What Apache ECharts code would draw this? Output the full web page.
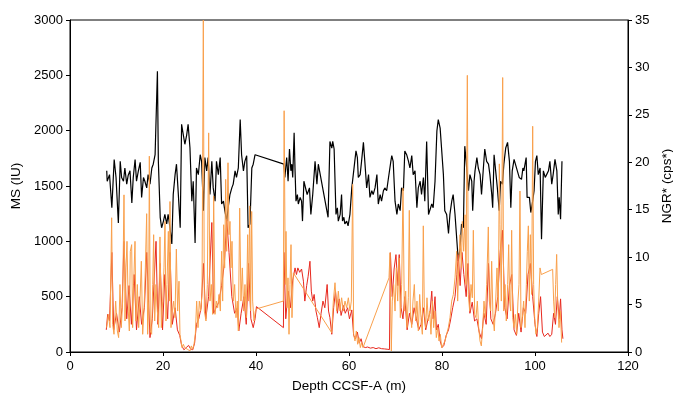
<!DOCTYPE html>
<html>
<head>
<meta charset="utf-8">
<script src="https://cdn.jsdelivr.net/npm/echarts@6/dist/echarts.min.js"></script>
<style>
html,body{margin:0;padding:0;background:#fff;}
#chart{width:673px;height:394px;}
</style>
</head>
<body>
<div id="chart"></div>
<script>
const xTitle = 'Depth CCSF-A (m)';
const yLeftTitle = 'MS (IU)';
const yRightTitle = 'NGR* (cps*)';

// NGR (black, right axis): [depth m, cps]
const ngrBlack = [
[7.9,19.1],[8.0,18.0],[8.5,18.7],[9.0,15.2],[9.5,20.3],[9.9,18.4],[10.4,13.6],[10.8,20.1],[11.1,18.4],[11.5,18.0],[11.8,19.4],[12.2,17.7],[12.5,18.6],[12.9,19.1],[13.3,15.7],[13.6,18.4],[14.0,20.3],[14.3,18.0],[14.7,19.1],[15.1,20.0],[15.4,16.3],[15.8,18.4],[16.1,18.0],[16.5,17.3],[16.8,18.7],[17.2,17.7],[17.6,19.4],[17.9,19.8],[18.3,20.8],[18.8,29.6],[19.0,20.1],[19.4,14.2],[19.7,13.1],[20.1,13.8],[20.4,14.5],[20.8,13.5],[21.1,14.5],[21.5,13.1],[21.9,11.4],[22.2,16.6],[22.6,18.7],[22.9,19.8],[23.3,16.6],[23.7,13.1],[24.0,24.0],[24.4,24.2],[24.7,21.9],[25.1,22.9],[25.4,24.0],[25.8,21.5],[26.2,15.9],[26.5,18.0],[26.9,11.5],[27.2,19.4],[27.6,18.7],[28.0,20.8],[28.3,20.1],[28.7,14.9],[29.0,20.5],[29.4,19.1],[29.7,20.5],[30.1,16.6],[30.5,20.1],[30.8,17.3],[31.2,15.9],[31.5,20.1],[31.9,18.7],[32.3,20.5],[32.6,15.6],[33.0,15.9],[33.3,14.9],[33.7,13.8],[34.0,15.2],[34.4,16.6],[34.8,17.3],[35.1,17.7],[35.5,19.1],[35.8,18.4],[36.2,19.4],[36.6,24.5],[36.9,20.8],[37.3,19.1],[37.6,20.1],[38.0,20.7],[38.3,13.1],[38.7,13.5],[39.1,19.4],[39.4,19.8],[39.8,20.8],[40.1,21.0],
[46.0,19.8],[46.2,18.4],[46.6,20.5],[46.9,18.0],[47.2,21.4],[47.5,19.1],[47.7,19.8],[47.9,18.4],[48.2,23.1],[48.4,19.1],[48.6,15.9],[48.9,16.6],[49.1,15.6],[49.5,16.3],[49.8,15.9],[50.0,13.8],[50.3,18.0],[50.8,17.0],[51.0,16.6],[51.5,17.3],[51.8,14.5],[52.2,16.6],[52.7,20.1],[53.1,17.7],[53.4,19.8],[55.5,14.2],[55.9,22.2],[56.3,21.5],[56.5,22.2],[56.8,21.4],[57.2,14.5],[57.5,15.2],[57.7,13.8],[58.1,14.5],[58.4,16.6],[58.6,13.8],[58.9,14.2],[59.1,13.5],[59.5,13.8],[59.8,13.3],[60.2,14.5],[60.6,17.3],[60.9,17.3],[61.5,21.2],[61.8,20.5],[62.0,18.4],[62.4,18.7],[62.7,20.1],[63.1,22.1],[63.4,20.1],[63.8,17.3],[64.2,18.7],[64.5,16.3],[64.9,17.0],[65.2,16.6],[65.6,17.3],[66.0,18.7],[66.3,15.6],[66.7,16.6],[67.0,15.9],[67.4,17.0],[67.7,17.3],[68.1,17.0],[68.5,18.4],[69.0,20.1],[69.2,20.7],[69.5,20.1],[69.9,15.9],[70.3,14.5],[70.6,15.6],[71.0,14.9],[71.3,17.3],[71.7,17.0],[72.0,21.2],[72.4,20.8],[72.8,20.1],[73.1,19.4],[73.5,20.7],[73.8,18.7],[74.2,19.1],[74.6,15.2],[74.9,17.3],[75.3,18.0],[75.6,16.6],[76.0,18.4],[76.3,15.9],[76.7,22.2],[77.1,14.5],[77.4,14.7],[77.8,15.6],[78.1,15.2],[78.5,18.0],[78.9,23.3],[79.2,24.5],[79.6,23.6],[79.9,21.5],[80.3,18.7],[80.6,14.9],[81.0,14.5],[81.4,12.5],[81.7,14.5],[82.1,15.9],[82.4,16.6],[82.8,14.5],[83.2,11.7],[83.5,9.6],[83.9,11.0],[84.2,13.5],[84.6,13.1],[84.9,21.7],[85.2,20.1],[85.4,18.7],[85.7,17.0],[86.0,18.7],[86.4,18.0],[86.6,14.9],[86.9,18.0],[87.1,19.1],[87.5,20.5],[87.8,19.4],[88.2,18.7],[88.5,16.6],[88.9,19.4],[89.2,21.4],[89.6,20.1],[90.0,19.8],[90.3,18.7],[90.7,16.6],[90.9,15.2],[91.2,20.8],[91.5,21.0],[91.9,17.3],[92.3,14.9],[92.6,18.0],[93.0,17.7],[93.3,19.8],[93.7,21.5],[94.1,22.1],[94.5,20.1],[94.8,15.2],[95.1,19.1],[95.5,20.3],[95.9,20.1],[96.2,19.1],[96.6,18.4],[97.1,18.2],[97.4,19.4],[97.6,19.1],[98.1,20.5],[98.3,16.3],[98.8,16.3],[99.1,14.7],[99.5,15.9],[99.8,17.0],[100.1,20.1],[100.4,20.7],[100.7,18.7],[101.1,19.4],[101.4,11.9],[101.8,19.1],[102.2,18.4],[102.5,18.7],[102.9,19.1],[103.2,20.1],[103.6,17.7],[103.9,18.7],[104.3,20.3],[104.7,19.1],[105.0,14.5],[105.2,16.3],[105.5,14.0],[105.8,20.1]
];

// MS (red, left axis): [depth m, IU]
const msRed = [
[7.8,200],[8.1,340],[8.5,280],[9.0,900],[9.4,200],[10.0,350],[10.6,180],[11.2,400],[11.6,1000],[12.2,300],[12.7,600],[13.2,250],[13.8,700],[14.3,200],[14.9,500],[15.4,250],[16.0,400],[16.5,900],[17.2,130],[17.7,300],[18.5,1000],[18.9,250],[19.4,800],[19.9,200],[20.4,700],[21.0,300],[21.5,900],[22.0,250],[22.6,400],[23.1,200],[23.6,150],[24.0,60],[24.5,20],[25.0,40],[25.5,60],[25.9,30],[26.4,20],[26.8,80],[27.2,250],[27.7,300],[28.2,400],[28.7,800],[29.2,300],[29.8,500],[30.5,1170],[30.9,350],[31.4,400],[32.0,450],[32.6,600],[33.2,800],[33.7,1200],[34.2,900],[34.8,500],[35.4,350],[36.0,400],[36.3,190],[36.8,350],[37.4,500],[37.9,250],[38.4,800],[38.9,300],[39.4,220],[39.8,300],[40.1,410],
[45.9,220],[46.0,900],[46.4,300],[46.9,550],[47.4,400],[47.9,650],[48.4,760],[48.7,700],[49.0,760],[49.4,720],[49.8,750],[50.2,640],[50.5,460],[50.9,600],[51.2,680],[51.6,820],[51.9,550],[52.2,460],[52.5,520],[52.9,370],[53.2,310],[53.6,220],[54.0,350],[54.4,460],[54.8,400],[55.3,610],[55.6,370],[55.9,310],[56.3,160],[56.7,400],[57.1,550],[57.5,350],[57.9,480],[58.3,330],[58.8,420],[59.2,350],[59.7,400],[60.1,300],[60.6,380],[61.0,150],[61.4,120],[61.8,180],[62.2,80],[62.6,120],[63.0,50],[63.5,40],[64.0,45],[64.6,35],[65.2,40],[65.8,30],[66.4,38],[67.0,30],[67.6,28],[68.2,25],[68.7,22],[68.9,897],[69.3,500],[69.7,750],[70.1,880],[70.5,600],[70.8,880],[71.2,400],[71.6,300],[72.0,500],[72.5,200],[73.0,350],[73.5,250],[74.0,400],[74.5,300],[75.0,200],[75.5,250],[76.0,400],[76.5,200],[77.0,300],[77.4,350],[77.8,550],[78.1,300],[78.5,500],[78.8,200],[79.2,250],[79.6,100],[80.0,40],[80.4,60],
[80.9,150],[81.4,200],[81.8,280],[82.3,400],[82.8,500],[83.2,700],[83.5,880],[83.9,600],[84.3,900],[84.7,700],[85.2,500],[85.6,800],[86.0,350],[86.5,450],[87.0,280],[87.5,300],[88.0,180],[88.5,120],[89.0,350],[89.5,250],[90.0,800],[90.5,300],[91.0,250],[91.5,350],[92.0,500],[92.5,900],[93.0,1100],[93.5,400],[94.0,300],[94.5,600],[95.0,700],[95.5,200],[96.0,150],[96.5,350],[97.0,180],[97.5,400],[98.0,350],[98.5,700],[99.0,800],[99.5,500],[100.0,250],[100.4,140],[100.8,350],[101.2,500],[101.6,180],[102.0,140],[102.4,130],[102.8,170],[103.2,140],[103.6,160],[104.0,350],[104.4,250],[104.8,500],[105.2,300],[105.5,480],[105.8,200],[106.0,120]
];

// MS (orange, left axis): [depth m, IU]
const msOrange = [
[7.88,220],[8.24,340],[8.6,220],[8.96,1213],[9.17,250],[9.46,160],[9.82,460],[10.18,190],[10.46,130],[10.75,610],[11.04,220],[11.32,460],[11.61,1420],[11.83,280],[12.04,760],[12.26,1000],[12.54,370],[12.76,190],[12.97,910],[13.26,970],[13.47,220],[13.69,610],[13.98,1000],[14.19,280],[14.48,610],[14.77,220],[15.05,460],[15.34,820],[15.63,160],[15.91,370],[16.2,760],[16.49,1250],[16.7,160],[16.92,460],[17.06,1770],[17.27,190],[17.56,160],[17.78,610],[17.99,1060],[18.21,280],[18.49,610],[18.78,370],[19.07,220],[19.35,1040],[19.64,220],[19.93,460],[20.21,760],[20.43,1180],[20.64,280],[20.86,610],[21.15,1090],[21.36,460],[21.5,1360],[21.72,220],[22.0,370],[22.29,460],[22.58,310],[22.87,930],[23.15,370],[23.44,640],[23.65,160],[23.87,100],[24.08,40],[24.37,70],[24.66,40],[24.94,55],[25.23,25],[25.52,40],[25.8,10],[26.09,55],[26.38,25],[26.67,70],[26.95,160],[27.24,460],[27.53,220],[27.81,460],[28.1,370],[28.39,520],[28.67,3000],[28.89,370],[29.25,280],[29.53,610],[29.82,1980],[30.11,460],[30.39,610],[30.68,340],[30.9,1410],[31.18,340],[31.47,460],[31.76,400],[32.04,520],[32.33,370],[32.61,910],[32.83,460],[33.05,1150],[33.26,760],[33.48,1560],[33.69,910],[33.98,1710],[34.19,1060],[34.41,1180],[34.62,760],[34.84,1000],[35.12,460],[35.41,610],[35.7,310],[35.98,460],[36.2,190],[36.49,1300],[36.77,460],[37.06,760],[37.35,370],[37.63,610],[37.92,310],[38.21,1060],[38.42,460],[38.64,1320],[38.85,370],[39.07,1270],[39.28,460],[39.57,280],[39.85,370],[40.14,390],
[45.88,460],[46.05,2180],[46.31,610],[46.45,1090],[46.67,400],[46.88,670],[47.1,160],[47.31,610],[47.53,970],[47.74,310],[48.03,715],[56.27,175],[56.63,460],[56.99,626],[57.35,370],[57.71,550],[58.06,370],[58.42,490],[58.78,370],[59.14,460],[59.5,400],[59.86,490],[60.21,370],[60.5,460],[60.79,1515],[61.0,160],[61.29,100],[61.58,190],[61.86,70],[62.15,130],[62.44,40],[62.72,85],[63.01,40],[63.3,25],[68.6,670],[68.82,897],[69.1,10],[69.32,460],[69.6,610],[69.9,370],[70.18,760],[70.47,460],[70.75,850],[71.04,310],[71.33,610],[71.61,1480],[71.9,370],[72.19,550],[72.47,220],[72.76,490],[72.97,1280],[73.19,370],[73.48,220],[73.76,460],[74.05,610],[74.34,280],[74.62,460],[74.91,190],[75.2,520],[75.48,310],[75.77,160],[75.98,1140],[76.2,400],[76.49,220],[76.77,490],[77.06,280],[77.35,370],[77.63,160],[77.92,460],[78.21,220],[78.49,370],[78.78,130],[79.07,220],[79.35,100],[79.64,160],[79.93,40],
[80.29,70],[80.65,100],[81.0,160],[81.36,220],[81.72,310],[82.08,460],[82.44,520],[82.8,670],[83.15,910],[83.37,460],[83.58,760],[83.87,1060],[84.16,760],[84.37,1180],[84.66,910],[84.95,1240],[85.16,610],[85.45,2500],[85.66,520],[85.95,370],[86.24,610],[86.52,490],[86.74,1100],[87.03,340],[87.31,310],[87.6,460],[87.89,220],[88.17,100],[88.46,55],[88.75,220],[89.03,460],[89.32,310],[89.61,610],[89.96,1130],[90.18,460],[90.47,370],[90.68,820],[90.97,310],[91.25,190],[91.54,460],[91.83,760],[92.11,370],[92.33,1700],[92.47,1150],[92.76,460],[93.05,2480],[93.26,370],[93.55,610],[93.83,280],[94.12,610],[94.34,970],[94.55,460],[94.77,370],[94.98,1100],[95.2,310],[95.48,220],[95.77,340],[96.06,160],[96.34,460],[96.56,610],[96.77,1455],[96.99,220],[97.28,310],[97.56,460],[97.85,220],[98.14,610],[98.35,910],[98.57,1140],[98.78,460],[99.0,1060],[99.28,520],[99.5,2040],[99.71,610],[99.93,310],[100.21,160],[100.5,220],[100.79,460],[101.08,760],[101.36,700],[103.8,747],[104.01,460],[104.23,310],[104.44,610],[104.66,882],[104.87,460],[105.16,220],[105.45,370],[105.73,85]
];

const FONT = "'Liberation Sans', Arial, Helvetica, sans-serif";
const chart = echarts.init(document.getElementById('chart'), null, {renderer: 'canvas'});
const plainNum = v => String(v);
const axisCommon = {
  axisLine: {show: true, lineStyle: {color: '#000', width: 1}},
  axisTick: {show: true, inside: false, length: 4, lineStyle: {color: '#000', width: 1}},
  axisLabel: {color: '#000', fontSize: 13, fontFamily: FONT, margin: 7, formatter: plainNum},
  splitLine: {show: false},
  nameTextStyle: {color: '#000', fontSize: 13.5, fontFamily: FONT}
};
chart.setOption({
  animation: false,
  backgroundColor: '#fff',
  grid: {left: 70, right: 45, top: 20, bottom: 42, show: true, borderColor: '#000', borderWidth: 1,
         containLabel: false, outerBoundsMode: 'none'},
  xAxis: Object.assign({}, axisCommon, {
    type: 'value', min: 0, max: 120, interval: 20,
    name: xTitle, nameLocation: 'middle', nameGap: 27,
    axisLabel: Object.assign({}, axisCommon.axisLabel, {margin: 8})
  }),
  yAxis: [
    Object.assign({}, axisCommon, {
      type: 'value', min: 0, max: 3000, interval: 500, position: 'left',
      name: yLeftTitle, nameLocation: 'middle', nameGap: 43
    }),
    Object.assign({}, axisCommon, {
      type: 'value', min: 0, max: 35, interval: 5, position: 'right',
      name: yRightTitle, nameLocation: 'middle', nameGap: 27
    })
  ],
  series: [
    {type: 'line', name: 'NGR', yAxisIndex: 1, data: ngrBlack, showSymbol: false, symbol: 'none',
     lineStyle: {color: '#000', width: 1.2}, z: 2},
    {type: 'line', name: 'MS red', yAxisIndex: 0, data: msRed, showSymbol: false, symbol: 'none',
     lineStyle: {color: '#E8281E', width: 1}, z: 3},
    {type: 'line', name: 'MS orange', yAxisIndex: 0, data: msOrange, showSymbol: false, symbol: 'none',
     lineStyle: {color: '#F9A04C', width: 1}, z: 4}
  ]
});
</script>
</body>
</html>
